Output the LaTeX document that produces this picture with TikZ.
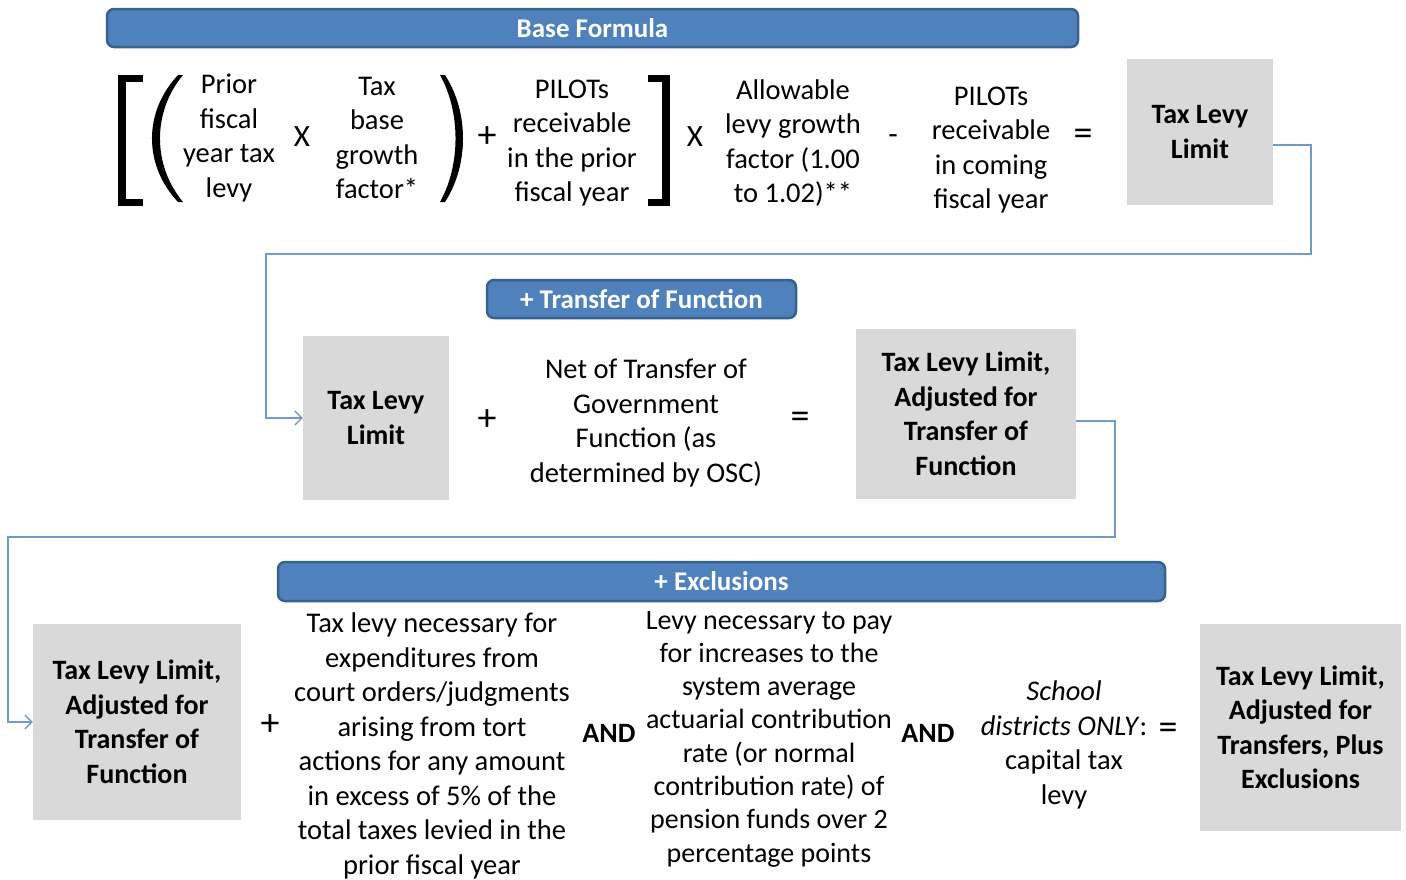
\documentclass[tikz,border=0pt]{standalone}
\usepackage{fontspec}
\setmainfont{Carlito}
\usetikzlibrary{arrows.meta,calc}
\definecolor{bannerfill}{HTML}{4F81BD}
\definecolor{bannerdraw}{HTML}{3A6090}
\definecolor{boxgray}{HTML}{D9D9D9}
\definecolor{connc}{HTML}{7399C9}
\begin{document}
\begin{tikzpicture}[x=1pt,y=-1pt,
  banner/.style={draw=bannerdraw, line width=2.5pt, fill=bannerfill, rounded corners=7pt, text=white, font=\fontsize{27}{30}\selectfont\bfseries, inner sep=0pt},
  graybox/.style={fill=boxgray, align=center, inner sep=0pt, font=\fontsize{28}{34.5}\selectfont\bfseries},
  txt/.style={align=center, inner sep=0pt, font=\fontsize{28.5}{34.5}\selectfont},
  op/.style={inner sep=0pt, font=\fontsize{38}{40}\selectfont},
  xop/.style={inner sep=0pt, font=\fontsize{31}{34}\selectfont},
  andop/.style={inner sep=0pt, font=\fontsize{28}{30}\selectfont\bfseries},
  conn/.style={draw=connc, line width=1.4pt},
  arr/.style={-{Straight Barb[length=7pt,width=14pt,line width=1.3pt]}},
  brk/.style={line width=7.5pt, miter limit=10},
]
\useasboundingbox (0,0) rectangle (1406,879);

% banners
\node[banner, minimum width=971pt, minimum height=38pt] (b1) at (592.5,28) {Base Formula};
\node[banner, minimum width=309pt, minimum height=38pt] (b2) at (641.5,299) {+ Transfer of Function};
\node[banner, minimum width=887pt, minimum height=39pt] (b3) at (721.5,581.5) {+ Exclusions};

% gray boxes
\node[graybox, minimum width=146pt, minimum height=146pt] (tl1) at (1200,132) {Tax Levy\\Limit};
\node[graybox, minimum width=146pt, minimum height=164pt] (tl2) at (376,418) {Tax Levy\\Limit};
\node[graybox, minimum width=220pt, minimum height=170pt] (tl3) at (966,414) {Tax Levy Limit,\\Adjusted for\\Transfer of\\Function};
\node[graybox, minimum width=208pt, minimum height=196pt] (tl4) at (137,722) {Tax Levy Limit,\\Adjusted for\\Transfer of\\Function};
\node[graybox, minimum width=201pt, minimum height=207pt] (tl5) at (1300.5,727.5) {Tax Levy Limit,\\Adjusted for\\Transfers, Plus\\Exclusions};

% brackets
\draw[brk] (143,78.5) -- (122,78.5) -- (122,202.5) -- (143,202.5);
\draw[brk] (648,78.5) -- (666,78.5) -- (666,202.5) -- (648,202.5);
\fill (178,75) .. controls (143.3,112) and (143.3,165) .. (178,202) -- (183,202) .. controls (152.3,165) and (152.3,112) .. (183,75) -- cycle;
\fill (445,75) .. controls (469,112) and (469,165) .. (445,202) -- (440,202) .. controls (460.7,165) and (460.7,112) .. (440,75) -- cycle;

% row 1 texts
\node[txt] (t1) at (229,138) {Prior\\fiscal\\year tax\\levy};
\node[xop] (x1) at (302,137) {X};
\node[txt] (t2) at (377,138) {Tax\\base\\growth\\factor*};
\node[op] (p1) at (487,137) {+};
\node[txt] (t3) at (572,143) {PILOTs\\receivable\\in the prior\\fiscal year};
\node[xop] (x2) at (695,137) {X};
\node[txt] (t4) at (793,143) {Allowable\\levy growth\\factor (1.00\\to 1.02)**};
\node[xop] (m1) at (893,140) {-};
\node[txt] (t5) at (991,150) {PILOTs\\receivable\\in coming\\fiscal year};
\node[op] (e1) at (1083,137) {=};

% row 2
\node[op] (p2) at (487,420) {+};
\node[txt] (t6) at (646,423) {Net of Transfer of\\Government\\Function (as\\determined by OSC)};
\node[op] (e2) at (800,420) {=};

% row 3
\node[op] (p3) at (270,725) {+};
\node[txt] (t7) at (432,746) {Tax levy necessary for\\expenditures from\\court orders/judgments\\arising from tort\\actions for any amount\\in excess of 5\% of the\\total taxes levied in the\\prior fiscal year};
\node[andop] (a1) at (609,733) {AND};
\node[txt, font=\fontsize{28}{33.3}\selectfont] (t8) at (769,739) {Levy necessary to pay\\for increases to the\\system average\\actuarial contribution\\rate (or normal\\contribution rate) of\\pension funds over 2\\percentage points};
\node[andop] (a2) at (928,733) {AND};
\node[txt] (t9) at (1064,745) {\textit{School}\\\textit{districts ONLY}:\\capital tax\\levy};
\node[op] (e3) at (1168,731) {=};

% connectors
\coordinate (k1) at (1311,254);
\coordinate (k2) at (266,254);
\coordinate (k3) at (1115,537);
\coordinate (k4) at (8,537);
\draw[conn, arr] ($(tl1.east)+(0,13)$) -| (k1) -- (k2) |- (tl2.west);
\draw[conn, arr] ($(tl3.east)+(0,7)$) -| (k3) -- (k4) |- (tl4.west);
\end{tikzpicture}
\end{document}
